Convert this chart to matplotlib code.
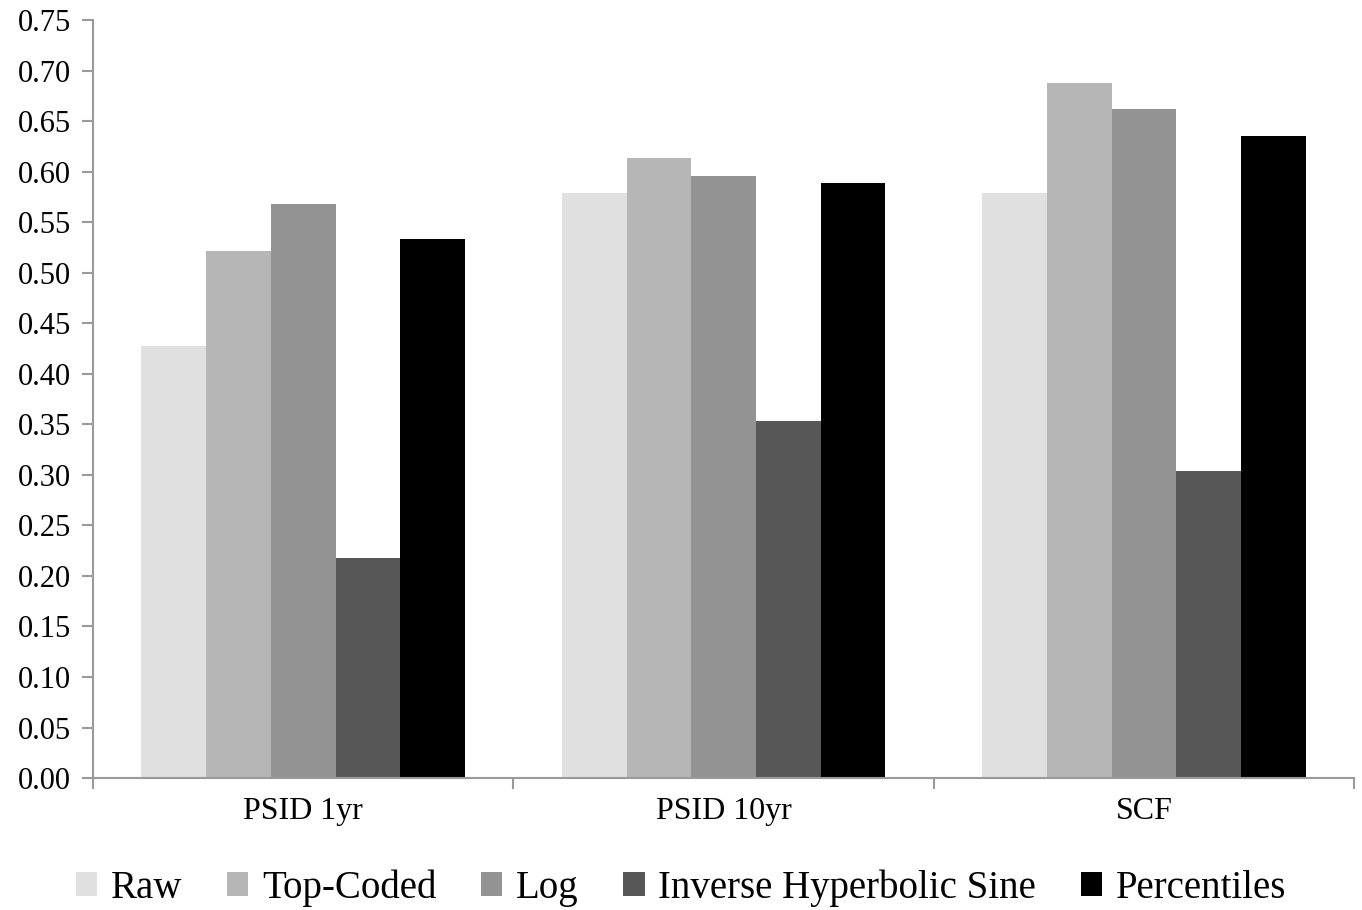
import numpy as np
import matplotlib.pyplot as plt

plt.rcParams['font.family'] = ['Liberation Serif', 'DejaVu Serif']

categories = ["PSID 1yr", "PSID 10yr", "SCF"]
series = ["Raw", "Top-Coded", "Log", "Inverse Hyperbolic Sine", "Percentiles"]
values = {
    "Raw": [0.427, 0.579, 0.579],
    "Top-Coded": [0.521, 0.613, 0.688],
    "Log": [0.568, 0.596, 0.662],
    "Inverse Hyperbolic Sine": [0.218, 0.353, 0.304],
    "Percentiles": [0.533, 0.589, 0.635],
}
colors = ["#e0e0e0", "#b6b6b6", "#939393", "#575757", "#000000"]
yticks = np.arange(0, 0.751, 0.05)

fig = plt.figure(figsize=(13.62, 9.10), dpi=100)
ax = fig.add_axes([0.0683, 0.145, 0.926, 0.833])

x = np.arange(len(categories))
width = 0.77 / len(series)
for i, (name, c) in enumerate(zip(series, colors)):
    offs = (i - (len(series) - 1) / 2) * width
    ax.bar(x + offs, values[name], width, color=c, label=name, linewidth=0)

axis_col = "#9a9a9a"
ax.set_xlim(-0.5, len(categories) - 0.5)
ax.set_ylim(0, 0.75)
ax.set_yticks(yticks)
ax.set_yticklabels([f"{v:.2f}" for v in yticks], fontsize=22)
ax.set_xticks(x)
ax.set_xticklabels(categories, fontsize=23)
ax.tick_params(axis="x", length=0, pad=14)
ax.set_xticks(np.arange(-0.5, len(categories)), minor=True)
ax.tick_params(axis="x", which="minor", length=8, color=axis_col, width=1.5, direction="out")
ax.tick_params(axis="y", length=8, color=axis_col, width=1.5, pad=8)
for s in ["top", "right"]:
    ax.spines[s].set_visible(False)
for s in ["left", "bottom"]:
    ax.spines[s].set_color(axis_col)
    ax.spines[s].set_linewidth(1.5)

fig.legend(loc="center", bbox_to_anchor=(0.5, 0.024), ncol=5, frameon=False,
           fontsize=28, handlelength=0.55, handleheight=0.55, handletextpad=0.35,
           columnspacing=1.15, borderpad=0)

fig.savefig("out.png", dpi=100)
